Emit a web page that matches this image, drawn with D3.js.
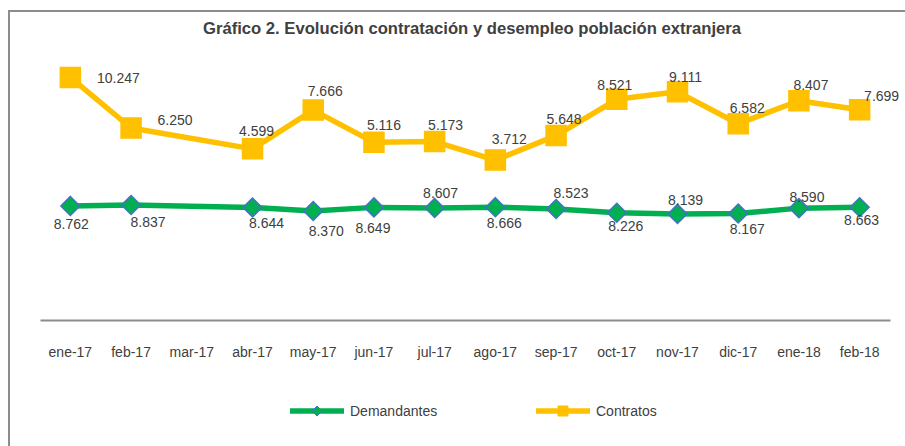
<!DOCTYPE html>
<html>
<head>
<meta charset="utf-8">
<script src="https://cdn.jsdelivr.net/npm/d3@7"></script>
<style>
  body { margin: 0; background: #fff; }
  text { font-family: "Liberation Sans", Arial, sans-serif; fill: #404040; }
</style>
</head>
<body>
<div id="chart"></div>
<script>
// data (mar-17 has no value)
const categories = ["ene-17", "feb-17", "mar-17", "abr-17", "may-17", "jun-17", "jul-17",
    "ago-17", "sep-17", "oct-17", "nov-17", "dic-17", "ene-18", "feb-18"];
const demandantes = [8762, 8837, null, 8644, 8370, 8649, 8607, 8666, 8523, 8226, 8139, 8167, 8590, 8663];
const contratos = [10247, 6250, null, 4599, 7666, 5116, 5173, 3712, 5648, 8521, 9111, 6582, 8407, 7699];
const title = "Gráfico 2. Evolución contratación y desempleo población extranjera";

// label placement relative to each marker (dx, dy)
const demOffsets = [[1, 18], [17, 17], null, [14, 16], [13, 20], [-1, 21], [6, -15], [9, 16],
    [15, -16], [9, 13], [8, -14], [9, 15], [8, -11], [2, 13]];
const conOffsets = [[48, 1], [44, -8], null, [4, -18], [12, -19], [10, -17], [11, -17], [14, -21],
    [8, -17], [-2, -14], [8, -15], [9, -16], [12, -16], [22, -14]];

const width = 905, height = 446;
const fmt = d3.formatLocale({ decimal: ",", thousands: ".", grouping: [3], currency: ["", "€"] }).format(",d");

const svg = d3.select("#chart")
    .append("svg")
    .attr("width", width)
    .attr("height", height);

// chart frame (runs past right and bottom edges)
svg.append("rect")
    .attr("x", 9).attr("y", 11)
    .attr("width", 920).attr("height", 460)
    .attr("fill", "none")
    .attr("stroke", "#8c8c8c")
    .attr("stroke-width", 2);

svg.append("text")
    .attr("x", 472).attr("y", 28)
    .attr("text-anchor", "middle")
    .attr("dominant-baseline", "central")
    .attr("textLength", 538)
    .attr("lengthAdjust", "spacingAndGlyphs")
    .style("font-size", "16px")
    .style("font-weight", "bold")
    .text(title);

const x = d3.scaleBand().domain(categories).range([40, 890]);
const cx = c => x(c) + x.bandwidth() / 2;

// primary axis (Demandantes) and secondary axis (Contratos), both hidden
const yDem = d3.scaleLinear().domain([0, 10000]).range([318, 190.1]);
const yCon = d3.scaleLinear().domain([0, 12000]).range([207, 55.3]);

// X axis
const xAxis = svg.append("g")
    .attr("transform", "translate(0,320)")
    .call(d3.axisBottom(x).tickSize(0).tickPadding(27));
xAxis.select(".domain").attr("stroke", "#8c8c8c").attr("stroke-width", 2);
xAxis.selectAll("text").style("font-size", "14px").style("fill", "#404040")
    .style("font-family", '"Liberation Sans", Arial, sans-serif');

const series = [
    { name: "Demandantes", values: demandantes, y: yDem, color: "#00b050", marker: "diamond", offsets: demOffsets },
    { name: "Contratos", values: contratos, y: yCon, color: "#ffc000", marker: "square", offsets: conOffsets }
];

function markerPath(type, s) {
    if (type === "diamond") return `M0,${-s}L${s},0L0,${s}L${-s},0Z`;
    return `M${-s},${-s}H${s}V${s}H${-s}Z`;
}

series.forEach(function (sr) {
    const pts = categories.map((c, i) => ({ c: c, v: sr.values[i], off: sr.offsets[i] }))
        .filter(d => d.v !== null);

    svg.append("path")
        .datum(pts)
        .attr("fill", "none")
        .attr("stroke", sr.color)
        .attr("stroke-width", 5.5)
        .attr("stroke-linejoin", "round")
        .attr("d", d3.line().x(d => cx(d.c)).y(d => sr.y(d.v)));

    svg.selectAll(null)
        .data(pts)
        .enter()
        .append("path")
        .attr("transform", d => `translate(${cx(d.c)},${sr.y(d.v)})`)
        .attr("d", markerPath(sr.marker, sr.marker === "diamond" ? 9.5 : 10))
        .attr("fill", sr.color)
        .attr("stroke", sr.marker === "diamond" ? "#4472c4" : sr.color)
        .attr("stroke-width", 1.5);

    svg.selectAll(null)
        .data(pts)
        .enter()
        .append("text")
        .attr("x", d => cx(d.c) + d.off[0])
        .attr("y", d => sr.y(d.v) + d.off[1])
        .attr("text-anchor", "middle")
        .attr("dominant-baseline", "central")
        .style("font-size", "14px")
        .text(d => fmt(d.v));
});

// legend
const legend = svg.append("g").attr("transform", "translate(290,411)");
const lx = [0, 246];
series.forEach(function (sr, i) {
    const g = legend.append("g").attr("transform", `translate(${lx[i]},0)`);
    g.append("line")
        .attr("x1", 0).attr("x2", 54)
        .attr("stroke", sr.color)
        .attr("stroke-width", 5.5);
    g.append("path")
        .attr("transform", "translate(27,0)")
        .attr("d", markerPath(sr.marker, 5))
        .attr("fill", sr.color)
        .attr("stroke", sr.marker === "diamond" ? "#4472c4" : sr.color)
        .attr("stroke-width", 1);
    g.append("text")
        .attr("x", 60)
        .attr("dominant-baseline", "central")
        .style("font-size", "14px")
        .text(sr.name);
});
</script>
</body>
</html>
